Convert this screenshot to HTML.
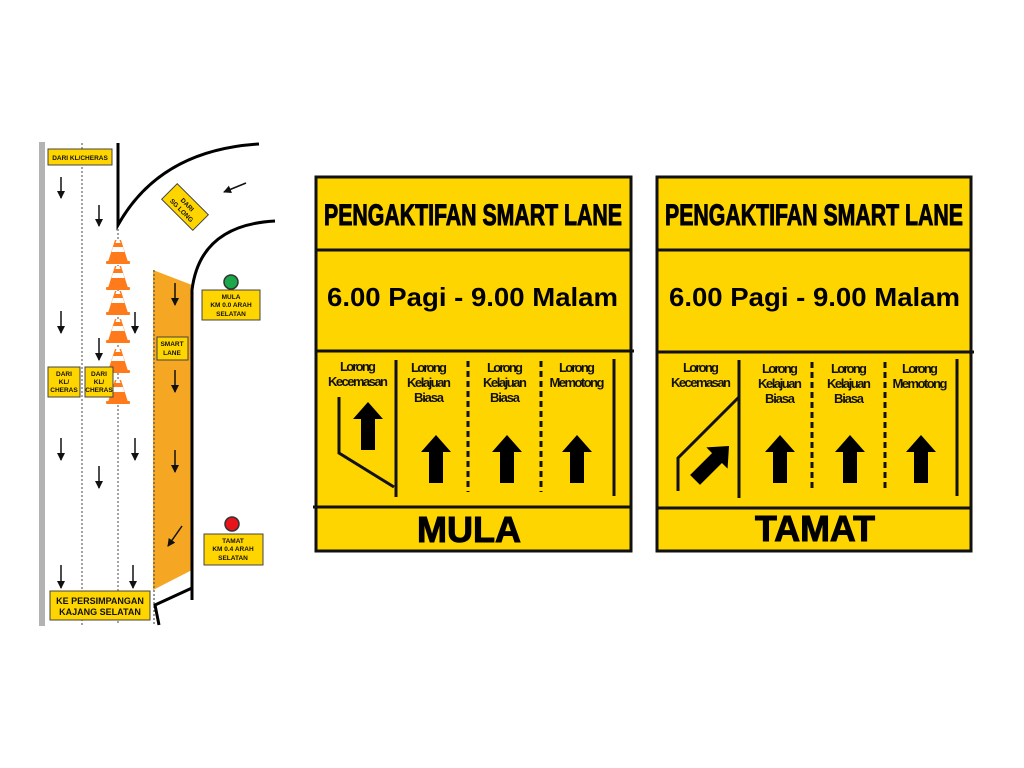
<!DOCTYPE html>
<html><head><meta charset="utf-8"><style>
html,body{margin:0;padding:0;background:#fff;width:1024px;height:768px;overflow:hidden}
svg{display:block}
.c{font-family:"Liberation Sans",sans-serif;font-weight:bold}
.s{font-family:"Liberation Sans",sans-serif;font-weight:bold}
</style></head><body>
<svg width="1024" height="768" viewBox="0 0 1024 768" xmlns="http://www.w3.org/2000/svg">
<defs>
<marker id="ah" markerWidth="9" markerHeight="9" refX="7" refY="4" orient="auto" markerUnits="userSpaceOnUse">
<path d="M0,0 L8,4 L0,8 Z" fill="#111"/></marker>
<g id="cone">
<path d="M-3,-22 L3,-22 L10,0 L-10,0 Z" fill="#ff7a1a"/>
<path d="M-5,-15 L5,-15 L6.5,-10 L-6.5,-10 Z" fill="#fff"/>
<path d="M-1.5,-22 L1.5,-22 L2.5,-19 L-2.5,-19 Z" fill="#fff"/>
<rect x="-12" y="-1" width="24" height="3" rx="1" fill="#ff7a1a"/>
</g>
<path id="up" d="M0,0 L15,17 L7,17 L7,48 L-7,48 L-7,17 L-15,17 Z" fill="#000"/>
</defs>

<rect x="39" y="142" width="6" height="484" fill="#b3b3b3"/>
<line x1="82" y1="143" x2="82" y2="625" stroke="#666" stroke-width="1.2" stroke-dasharray="2,2"/>
<line x1="118" y1="225" x2="118" y2="625" stroke="#666" stroke-width="1.2" stroke-dasharray="2,2"/>
<polygon points="153,270 192,285 192,570 153,590" fill="#f5a623"/>
<line x1="154" y1="270" x2="154" y2="625" stroke="#555" stroke-width="1.2" stroke-dasharray="2,2"/>
<path d="M118,143 L118,225 Q160,150 259,144" fill="none" stroke="#000" stroke-width="3"/>
<path d="M192,600 L192,290 Q200,225 275,221" fill="none" stroke="#000" stroke-width="3"/>
<path d="M192,588 L155,605 L159,625" fill="none" stroke="#000" stroke-width="3"/>

<g stroke="#111" stroke-width="1.5" marker-end="url(#ah)">
<line x1="61" y1="177" x2="61" y2="198"/>
<line x1="99" y1="205" x2="99" y2="226"/>
<line x1="61" y1="311" x2="61" y2="333"/>
<line x1="99" y1="338" x2="99" y2="360"/>
<line x1="135" y1="312" x2="135" y2="333"/>
<line x1="61" y1="438" x2="61" y2="460"/>
<line x1="135" y1="438" x2="135" y2="460"/>
<line x1="99" y1="466" x2="99" y2="488"/>
<line x1="61" y1="565" x2="61" y2="588"/>
<line x1="133" y1="565" x2="133" y2="588"/>
<line x1="175" y1="283" x2="175" y2="305"/>
<line x1="175" y1="370" x2="175" y2="392"/>
<line x1="175" y1="450" x2="175" y2="472"/>
<line x1="182" y1="526" x2="168" y2="546"/>
<line x1="246" y1="183" x2="224" y2="192"/>
</g>

<g>
<use href="#cone" x="118" y="262"/>
<use href="#cone" x="118" y="288"/>
<use href="#cone" x="118" y="313"/>
<use href="#cone" x="118" y="341"/>
<use href="#cone" x="118" y="371"/>
<use href="#cone" x="118" y="402"/>
</g>

<g stroke="#444" stroke-width="1" fill="#ffd500">
<rect x="48" y="149" width="64" height="16"/>
<rect x="48" y="367" width="32" height="30"/>
<rect x="85" y="367" width="28" height="30"/>
<rect x="50" y="591" width="100" height="29"/>
<rect x="157" y="337" width="31" height="23"/>
<rect x="202" y="290" width="58" height="30"/>
<rect x="204" y="534" width="59" height="31"/>
<rect x="-22" y="-11" width="44" height="22" transform="translate(185,207) rotate(45)"/>
</g>
<circle cx="231" cy="282" r="7" fill="#1aa84a" stroke="#333" stroke-width="1.5"/>
<circle cx="232" cy="524" r="7" fill="#e8141b" stroke="#333" stroke-width="1.5"/>
<g class="s" font-size="6.5" fill="#111" text-anchor="middle">
<text x="80" y="160">DARI KL/CHERAS</text>
<text x="64" y="376">DARI</text><text x="64" y="384">KL/</text><text x="64" y="392">CHERAS</text>
<text x="99" y="376">DARI</text><text x="99" y="384">KL/</text><text x="99" y="392">CHERAS</text>
<text x="172" y="346">SMART</text><text x="172" y="355">LANE</text>
<text x="231" y="299">MULA</text><text x="231" y="307">KM 0.0 ARAH</text><text x="231" y="316">SELATAN</text>
<text x="233" y="543">TAMAT</text><text x="233" y="551">KM 0.4 ARAH</text><text x="233" y="560">SELATAN</text>
<g transform="translate(185,207) rotate(45)"><text x="0" y="-1">DARI</text><text x="0" y="7">SG LONG</text></g>
<text x="100" y="604" font-size="9">KE PERSIMPANGAN</text>
<text x="100" y="615" font-size="9">KAJANG SELATAN</text>
</g>

<!-- MULA sign -->
<g>
<rect x="316" y="177" width="315" height="374" fill="#ffd500" stroke="#111" stroke-width="3"/>
<line x1="316" y1="250" x2="631" y2="250" stroke="#111" stroke-width="3"/>
<line x1="316" y1="351" x2="634" y2="351" stroke="#111" stroke-width="3"/>
<line x1="313" y1="507" x2="631" y2="507" stroke="#111" stroke-width="3"/>
<text class="c" x="324" y="225" font-size="30" stroke="#000" stroke-width="1" textLength="298" lengthAdjust="spacingAndGlyphs">PENGAKTIFAN SMART LANE</text>
<text class="s" x="327" y="306" font-size="26" textLength="291" lengthAdjust="spacingAndGlyphs">6.00 Pagi - 9.00 Malam</text>
<line x1="396" y1="360" x2="396" y2="497" stroke="#111" stroke-width="3"/>
<line x1="614" y1="359" x2="614" y2="496" stroke="#111" stroke-width="3"/>
<line x1="468" y1="361" x2="468" y2="492" stroke="#111" stroke-width="3" stroke-dasharray="6,4"/>
<line x1="541" y1="361" x2="541" y2="492" stroke="#111" stroke-width="3" stroke-dasharray="6,4"/>
<path d="M339,397 L339,453 L394,487" fill="none" stroke="#111" stroke-width="3"/>
<use href="#up" x="368" y="402"/>
<use href="#up" x="436" y="435"/>
<use href="#up" x="507" y="435"/>
<use href="#up" x="577" y="435"/>
<g class="c" font-size="13" fill="#111" text-anchor="middle" lengthAdjust="spacingAndGlyphs">
<text x="358" y="371" textLength="36">Lorong</text><text x="358" y="386" textLength="60">Kecemasan</text>
<text x="429" y="372" textLength="36">Lorong</text><text x="429" y="387" textLength="44">Kelajuan</text><text x="429" y="402" textLength="30">Biasa</text>
<text x="505" y="372" textLength="36">Lorong</text><text x="505" y="387" textLength="44">Kelajuan</text><text x="505" y="402" textLength="30">Biasa</text>
<text x="577" y="372" textLength="36">Lorong</text><text x="577" y="387" textLength="55">Memotong</text>
</g>
<text class="s" x="469" y="542" font-size="36" stroke="#000" stroke-width="1" text-anchor="middle" textLength="104" lengthAdjust="spacingAndGlyphs">MULA</text>
</g>

<!-- TAMAT sign -->
<g>
<rect x="657" y="177" width="314" height="374" fill="#ffd500" stroke="#111" stroke-width="3"/>
<line x1="657" y1="250" x2="971" y2="250" stroke="#111" stroke-width="3"/>
<line x1="657" y1="352" x2="974" y2="352" stroke="#111" stroke-width="3"/>
<line x1="657" y1="508" x2="971" y2="508" stroke="#111" stroke-width="3"/>
<text class="c" x="665" y="225" font-size="30" stroke="#000" stroke-width="1" textLength="298" lengthAdjust="spacingAndGlyphs">PENGAKTIFAN SMART LANE</text>
<text class="s" x="669" y="306" font-size="26" textLength="291" lengthAdjust="spacingAndGlyphs">6.00 Pagi - 9.00 Malam</text>
<line x1="739" y1="360" x2="739" y2="498" stroke="#111" stroke-width="3"/>
<line x1="957" y1="359" x2="957" y2="496" stroke="#111" stroke-width="3"/>
<line x1="812" y1="362" x2="812" y2="492" stroke="#111" stroke-width="3" stroke-dasharray="6,4"/>
<line x1="885" y1="362" x2="885" y2="492" stroke="#111" stroke-width="3" stroke-dasharray="6,4"/>
<path d="M678,491 L678,458 L739,397" fill="none" stroke="#111" stroke-width="3"/>
<use href="#up" transform="translate(729,446) rotate(45)"/>
<use href="#up" x="780" y="435"/>
<use href="#up" x="850" y="435"/>
<use href="#up" x="921" y="435"/>
<g class="c" font-size="13" fill="#111" text-anchor="middle" lengthAdjust="spacingAndGlyphs">
<text x="701" y="372" textLength="36">Lorong</text><text x="701" y="387" textLength="60">Kecemasan</text>
<text x="780" y="373" textLength="36">Lorong</text><text x="780" y="388" textLength="44">Kelajuan</text><text x="780" y="403" textLength="30">Biasa</text>
<text x="849" y="373" textLength="36">Lorong</text><text x="849" y="388" textLength="44">Kelajuan</text><text x="849" y="403" textLength="30">Biasa</text>
<text x="920" y="373" textLength="36">Lorong</text><text x="920" y="388" textLength="55">Memotong</text>
</g>
<text class="s" x="815" y="541" font-size="36" stroke="#000" stroke-width="1" text-anchor="middle" textLength="120" lengthAdjust="spacingAndGlyphs">TAMAT</text>
</g>
</svg>
</body></html>
